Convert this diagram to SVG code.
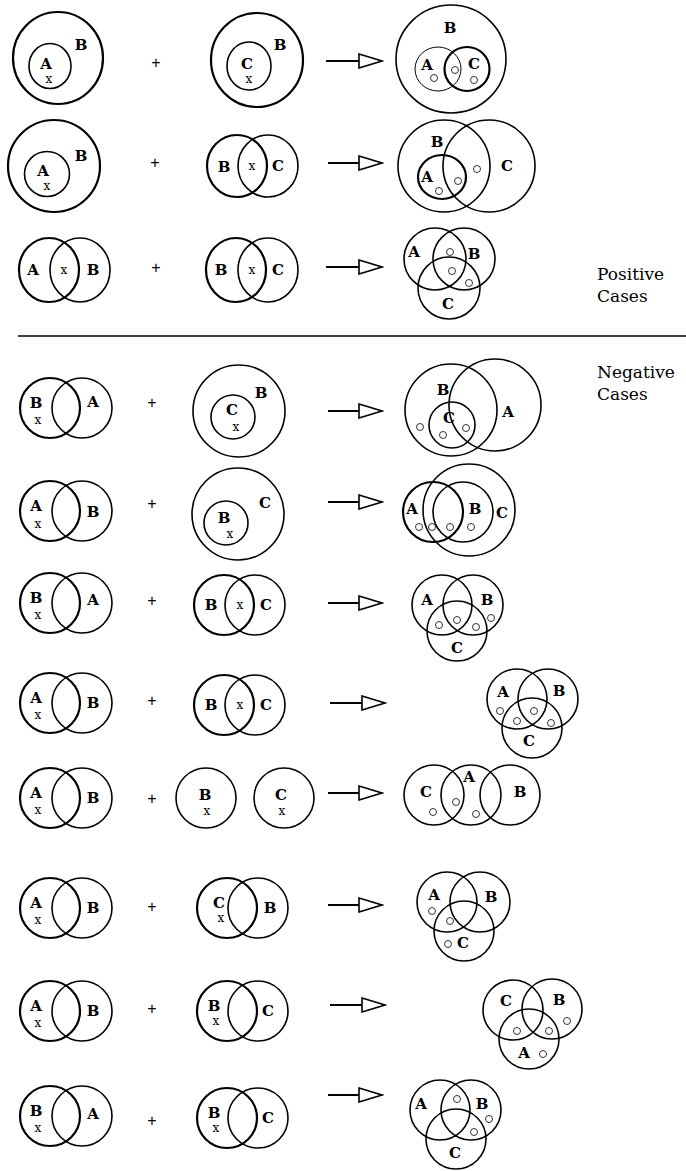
<svg xmlns="http://www.w3.org/2000/svg" width="686" height="1171" viewBox="0 0 686 1171">
<style>
.c{fill:none;stroke:#000;stroke-width:1.6}
.k{stroke-width:2.2}
.n{stroke-width:1}
.o{fill:none;stroke:#333;stroke-width:1}
.l{font-family:"DejaVu Serif",serif;font-weight:bold;font-size:15px;text-anchor:middle;dominant-baseline:central}
.x{font-family:"DejaVu Serif",serif;font-size:12px;text-anchor:middle;dominant-baseline:central}
.p{font-family:"Liberation Sans",sans-serif;font-size:16px;text-anchor:middle;dominant-baseline:central}
.h{font-family:"DejaVu Serif",serif;font-size:17px}
.a{stroke:#000;stroke-width:1.8;fill:none}
</style>
<defs>
<marker id="tri" markerUnits="userSpaceOnUse" markerWidth="26" markerHeight="16" refX="24" refY="8" orient="auto">
<path d="M1,1 L24,8 L1,15 z" fill="#fff" stroke="#000" stroke-width="1.6"/>
</marker>
</defs>
<rect width="686" height="1171" fill="#fff"/>

<!-- Row 1 -->
<g id="r1-left"><ellipse class="c k" cx="58" cy="58" rx="45" ry="46"/><ellipse class="c" cx="50" cy="66" rx="21" ry="22.5"/><text class="l" x="46" y="64">A</text><text class="x" x="49" y="79">x</text><text class="l" x="81" y="45">B</text></g>
<text class="p" x="156" y="62">+</text>
<g id="r1-mid"><ellipse class="c k" cx="257" cy="60" rx="46" ry="47"/><ellipse class="c" cx="249" cy="66" rx="22" ry="24"/><text class="l" x="247" y="64">C</text><text class="x" x="249" y="79">x</text><text class="l" x="280" y="45">B</text></g>
<g id="r1-res"><ellipse class="c" cx="451" cy="59" rx="55" ry="54"/><ellipse class="c n" cx="438" cy="69" rx="23" ry="22"/><ellipse class="c k" cx="467" cy="69" rx="22.5" ry="22"/><text class="l" x="450" y="28">B</text><text class="l" x="427" y="65">A</text><text class="l" x="474" y="64">C</text><circle class="o" cx="434" cy="78" r="3.5"/><circle class="o" cx="455" cy="70" r="3.5"/><circle class="o" cx="474" cy="80" r="3.5"/></g>

<!-- Row 2 -->
<g id="r2-left"><ellipse class="c k" cx="54" cy="166" rx="46" ry="46"/><ellipse class="c" cx="47" cy="174" rx="22.5" ry="22.5"/><text class="l" x="43" y="171">A</text><text class="x" x="47" y="186">x</text><text class="l" x="81" y="156">B</text></g>
<text class="p" x="155" y="162">+</text>
<g id="r2-mid"><ellipse class="c k" cx="237" cy="166" rx="30" ry="31"/><ellipse class="c" cx="268" cy="166" rx="30" ry="31"/><text class="l" x="224" y="167">B</text><text class="x" x="252" y="166">x</text><text class="l" x="278" y="166">C</text></g>
<g id="r2-res"><ellipse class="c" cx="444" cy="166" rx="46" ry="46"/><ellipse class="c" cx="489" cy="166" rx="46" ry="46"/><ellipse class="c k" cx="442" cy="177" rx="24" ry="22"/><text class="l" x="437" y="142">B</text><text class="l" x="427" y="177">A</text><text class="l" x="507" y="166">C</text><circle class="o" cx="439" cy="191" r="3.5"/><circle class="o" cx="458" cy="181" r="3.5"/><circle class="o" cx="477" cy="169" r="3.5"/></g>

<!-- Row 3 -->
<g id="r3-left"><ellipse class="c k" cx="49" cy="270" rx="30" ry="32"/><ellipse class="c" cx="80" cy="270" rx="30" ry="32"/><text class="l" x="33" y="270">A</text><text class="x" x="64" y="270">x</text><text class="l" x="93" y="270">B</text></g>
<text class="p" x="156" y="267">+</text>
<g id="r3-mid"><ellipse class="c k" cx="236" cy="270" rx="30" ry="32"/><ellipse class="c" cx="268" cy="270" rx="30" ry="32"/><text class="l" x="221" y="270">B</text><text class="x" x="252" y="270">x</text><text class="l" x="278" y="270">C</text></g>
<g id="r3-res"><circle class="c" cx="435" cy="259" r="31"/><circle class="c" cx="464" cy="259" r="31"/><circle class="c" cx="449" cy="288" r="31"/><text class="l" x="414" y="252">A</text><text class="l" x="474" y="254">B</text><text class="l" x="448" y="304">C</text><circle class="o" cx="450" cy="252" r="3.5"/><circle class="o" cx="452" cy="271" r="3.5"/><circle class="o" cx="469" cy="283" r="3.5"/></g>
<g id="positive-label"><text class="h" x="597" y="280">Positive</text><text class="h" x="597" y="302">Cases</text></g>

<line id="separator" x1="18" y1="336" x2="686" y2="336" stroke="#000" stroke-width="1.6"/>

<g id="negative-label"><text class="h" x="597" y="378">Negative</text><text class="h" x="597" y="400">Cases</text></g>

<!-- Row 4 -->
<g id="r4-left"><circle class="c k" cx="50" cy="408" r="30"/><circle class="c" cx="82" cy="408" r="30"/><text class="l" x="36" y="403">B</text><text class="x" x="38" y="420">x</text><text class="l" x="93" y="402">A</text></g>
<text class="p" x="152" y="402">+</text>
<g id="r4-mid"><circle class="c" cx="239" cy="411" r="46"/><circle class="c" cx="233" cy="417" r="22"/><text class="l" x="232" y="410">C</text><text class="x" x="236" y="427">x</text><text class="l" x="261" y="393">B</text></g>
<g id="r4-res"><circle class="c" cx="451" cy="410" r="46"/><circle class="c" cx="495" cy="405" r="46"/><circle class="c" cx="452" cy="425" r="23"/><text class="l" x="443" y="390">B</text><text class="l" x="508" y="412">A</text><text class="l" x="449" y="418">C</text><circle class="o" cx="420" cy="427" r="3.5"/><circle class="o" cx="443" cy="435" r="3.5"/><circle class="o" cx="466" cy="428" r="3.5"/></g>

<!-- Row 5 -->
<g id="r5-left"><circle class="c k" cx="50" cy="511" r="30"/><circle class="c" cx="82" cy="511" r="30"/><text class="l" x="36" y="506">A</text><text class="x" x="38" y="524">x</text><text class="l" x="93" y="512">B</text></g>
<text class="p" x="152" y="503">+</text>
<g id="r5-mid"><circle class="c" cx="238" cy="514" r="46"/><circle class="c" cx="226" cy="523" r="22"/><text class="l" x="224" y="518">B</text><text class="x" x="230" y="534">x</text><text class="l" x="265" y="503">C</text></g>
<g id="r5-res"><circle class="c k" cx="433" cy="512" r="30"/><circle class="c" cx="469" cy="510" r="46"/><circle class="c" cx="463" cy="512" r="30"/><text class="l" x="412" y="509">A</text><text class="l" x="475" y="509">B</text><text class="l" x="502" y="513">C</text><circle class="o" cx="419" cy="527" r="3.5"/><circle class="o" cx="432" cy="527" r="3.5"/><circle class="o" cx="450" cy="527" r="3.5"/><circle class="o" cx="471" cy="527" r="3.5"/></g>

<!-- Row 6 -->
<g id="r6-left"><circle class="c k" cx="50" cy="603" r="30"/><circle class="c" cx="82" cy="603" r="30"/><text class="l" x="36" y="598">B</text><text class="x" x="38" y="615">x</text><text class="l" x="93" y="600">A</text></g>
<text class="p" x="152" y="600">+</text>
<g id="r6-mid"><circle class="c k" cx="224" cy="605" r="30"/><circle class="c" cx="255" cy="605" r="30"/><text class="l" x="211" y="605">B</text><text class="x" x="240" y="605">x</text><text class="l" x="266" y="605">C</text></g>
<g id="r6-res"><circle class="c" cx="442" cy="605" r="30"/><circle class="c" cx="473" cy="605" r="30"/><circle class="c" cx="457" cy="631" r="30"/><text class="l" x="427" y="600">A</text><text class="l" x="487" y="600">B</text><text class="l" x="457" y="648">C</text><circle class="o" cx="439" cy="625" r="3.5"/><circle class="o" cx="457" cy="620" r="3.5"/><circle class="o" cx="476" cy="627" r="3.5"/><circle class="o" cx="491" cy="618" r="3.5"/></g>

<!-- Row 7 -->
<g id="r7-left"><circle class="c k" cx="50" cy="703" r="30"/><circle class="c" cx="82" cy="703" r="30"/><text class="l" x="36" y="698">A</text><text class="x" x="38" y="715">x</text><text class="l" x="93" y="703">B</text></g>
<text class="p" x="152" y="700">+</text>
<g id="r7-mid"><circle class="c k" cx="224" cy="705" r="30"/><circle class="c" cx="255" cy="705" r="30"/><text class="l" x="211" y="705">B</text><text class="x" x="240" y="705">x</text><text class="l" x="266" y="705">C</text></g>
<g id="r7-res"><circle class="c" cx="517" cy="699" r="30"/><circle class="c" cx="548" cy="699" r="30"/><circle class="c" cx="532" cy="728" r="30"/><text class="l" x="503" y="692">A</text><text class="l" x="559" y="691">B</text><text class="l" x="529" y="741">C</text><circle class="o" cx="500" cy="711" r="3.5"/><circle class="o" cx="517" cy="721" r="3.5"/><circle class="o" cx="534" cy="711" r="3.5"/><circle class="o" cx="551" cy="723" r="3.5"/></g>

<!-- Row 8 -->
<g id="r8-left"><circle class="c k" cx="50" cy="798" r="30"/><circle class="c" cx="82" cy="798" r="30"/><text class="l" x="36" y="793">A</text><text class="x" x="38" y="810">x</text><text class="l" x="93" y="798">B</text></g>
<text class="p" x="152" y="798">+</text>
<g id="r8-mid-b"><circle class="c" cx="206" cy="798" r="30"/><text class="l" x="205" y="795">B</text><text class="x" x="207" y="811">x</text></g>
<g id="r8-mid-c"><circle class="c" cx="284" cy="798" r="30"/><text class="l" x="281" y="795">C</text><text class="x" x="282" y="811">x</text></g>
<g id="r8-res"><circle class="c" cx="434" cy="795" r="30"/><circle class="c" cx="471" cy="795" r="30"/><circle class="c" cx="510" cy="795" r="30"/><text class="l" x="426" y="792">C</text><text class="l" x="469" y="777">A</text><text class="l" x="520" y="792">B</text><circle class="o" cx="433" cy="812" r="3.5"/><circle class="o" cx="456" cy="802" r="3.5"/><circle class="o" cx="476" cy="814" r="3.5"/></g>

<!-- Row 9 -->
<g id="r9-left"><circle class="c k" cx="50" cy="908" r="30"/><circle class="c" cx="82" cy="908" r="30"/><text class="l" x="36" y="903">A</text><text class="x" x="38" y="920">x</text><text class="l" x="93" y="908">B</text></g>
<text class="p" x="152" y="906">+</text>
<g id="r9-mid"><circle class="c k" cx="227" cy="908" r="30"/><circle class="c" cx="258" cy="908" r="30"/><text class="l" x="219" y="903">C</text><text class="x" x="221" y="918">x</text><text class="l" x="270" y="908">B</text></g>
<g id="r9-res"><circle class="c" cx="447" cy="902" r="30"/><circle class="c" cx="480" cy="902" r="30"/><circle class="c" cx="464" cy="931" r="30"/><text class="l" x="434" y="895">A</text><text class="l" x="491" y="897">B</text><text class="l" x="463" y="943">C</text><circle class="o" cx="432" cy="911" r="3.5"/><circle class="o" cx="450" cy="921" r="3.5"/><circle class="o" cx="448" cy="944" r="3.5"/></g>

<!-- Row 10 -->
<g id="r10-left"><circle class="c k" cx="50" cy="1011" r="30"/><circle class="c" cx="82" cy="1011" r="30"/><text class="l" x="36" y="1006">A</text><text class="x" x="38" y="1023">x</text><text class="l" x="93" y="1011">B</text></g>
<text class="p" x="152" y="1008">+</text>
<g id="r10-mid"><circle class="c k" cx="227" cy="1011" r="30"/><circle class="c" cx="258" cy="1011" r="30"/><text class="l" x="214" y="1006">B</text><text class="x" x="216" y="1021">x</text><text class="l" x="268" y="1011">C</text></g>
<g id="r10-res"><circle class="c" cx="513" cy="1010" r="30"/><circle class="c" cx="552" cy="1009" r="30"/><circle class="c" cx="529" cy="1039" r="30"/><text class="l" x="506" y="1001">C</text><text class="l" x="559" y="1000">B</text><text class="l" x="524" y="1053">A</text><circle class="o" cx="517" cy="1031" r="3.5"/><circle class="o" cx="549" cy="1031" r="3.5"/><circle class="o" cx="567" cy="1021" r="3.5"/><circle class="o" cx="543" cy="1054" r="3.5"/></g>

<!-- Row 11 -->
<g id="r11-left"><circle class="c k" cx="50" cy="1116" r="30"/><circle class="c" cx="82" cy="1116" r="30"/><text class="l" x="36" y="1111">B</text><text class="x" x="38" y="1128">x</text><text class="l" x="93" y="1114">A</text></g>
<text class="p" x="152" y="1120">+</text>
<g id="r11-mid"><circle class="c k" cx="227" cy="1118" r="30"/><circle class="c" cx="258" cy="1118" r="30"/><text class="l" x="214" y="1113">B</text><text class="x" x="216" y="1128">x</text><text class="l" x="268" y="1118">C</text></g>
<g id="r11-res"><circle class="c" cx="440" cy="1110" r="30"/><circle class="c" cx="471" cy="1110" r="30"/><circle class="c" cx="456" cy="1139" r="30"/><text class="l" x="421" y="1104">A</text><text class="l" x="482" y="1104">B</text><text class="l" x="455" y="1153">C</text><circle class="o" cx="457" cy="1099" r="3.5"/><circle class="o" cx="489" cy="1119" r="3.5"/><circle class="o" cx="474" cy="1132" r="3.5"/></g>

<g id="connectors">
<line class="a" x1="326" y1="61" x2="382" y2="61" marker-end="url(#tri)"/>
<line class="a" x1="328" y1="163" x2="382" y2="163" marker-end="url(#tri)"/>
<line class="a" x1="326" y1="267" x2="382" y2="267" marker-end="url(#tri)"/>
<line class="a" x1="328" y1="411" x2="382" y2="411" marker-end="url(#tri)"/>
<line class="a" x1="328" y1="502" x2="382" y2="502" marker-end="url(#tri)"/>
<line class="a" x1="328" y1="603" x2="382" y2="603" marker-end="url(#tri)"/>
<line class="a" x1="330" y1="703" x2="385" y2="703" marker-end="url(#tri)"/>
<line class="a" x1="328" y1="793" x2="382" y2="793" marker-end="url(#tri)"/>
<line class="a" x1="328" y1="905" x2="382" y2="905" marker-end="url(#tri)"/>
<line class="a" x1="330" y1="1005" x2="385" y2="1005" marker-end="url(#tri)"/>
<line class="a" x1="328" y1="1095" x2="382" y2="1095" marker-end="url(#tri)"/>
</g>
</svg>
